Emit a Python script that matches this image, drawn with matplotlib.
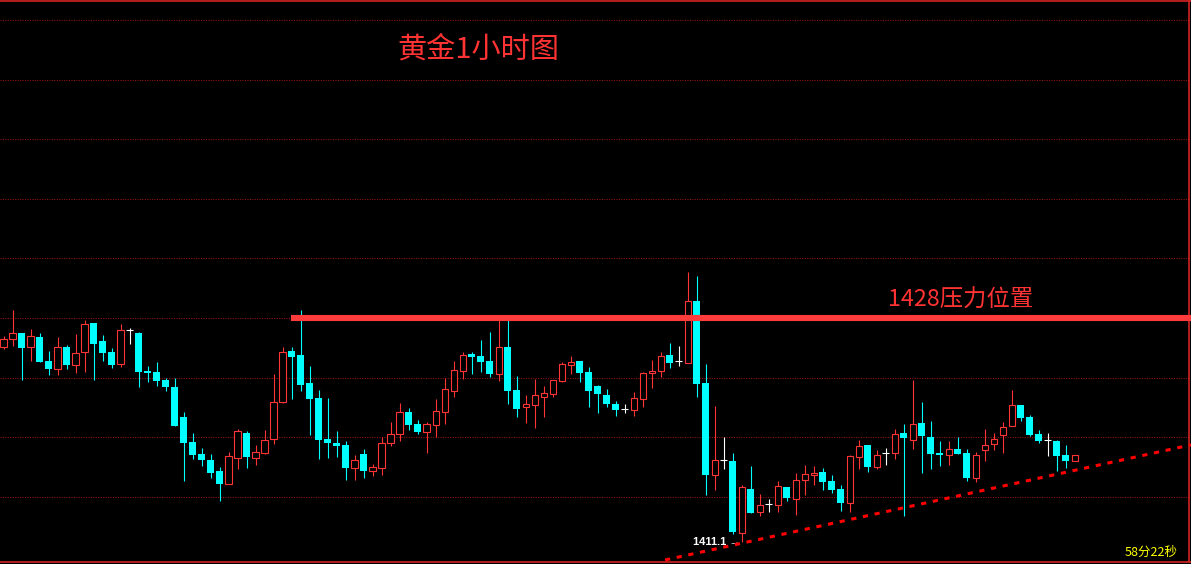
import numpy as np
import matplotlib
matplotlib.use('Agg')
import matplotlib.pyplot as plt

# hourly gold candles
opens = [1425.79, 1426.39, 1426.85, 1425.79, 1426.57, 1424.75, 1424.17, 1425.81, 1424.48, 1425.41,
         1427.62, 1426.26, 1425.43, 1424.51, 1427.07, 1426.87, 1424.00, 1423.92, 1423.32, 1422.79,
         1420.53, 1418.64, 1417.74, 1417.28, 1416.45, 1415.45, 1417.41, 1419.32, 1417.41, 1417.83,
         1418.85, 1421.68, 1425.51, 1425.21, 1423.09, 1421.96, 1418.87, 1418.57, 1418.42, 1416.70,
         1417.74, 1416.48, 1416.70, 1418.59, 1419.27, 1420.91, 1420.00, 1419.42, 1419.95, 1420.93,
         1422.51, 1423.98, 1425.28, 1425.13, 1424.75, 1423.75, 1425.81, 1422.57, 1421.31, 1421.46,
         1422.06, 1422.29, 1423.27, 1424.48, 1424.75, 1423.92, 1422.87, 1422.19, 1421.51, 1421.15,
         1421.08, 1421.91, 1423.87, 1424.02, 1425.21, 1424.75, 1424.63, 1429.28, 1423.09, 1416.13,
         1417.31, 1417.21, 1411.75, 1415.09, 1413.38, 1413.96, 1413.91, 1415.25, 1414.32, 1415.75,
         1416.17, 1416.38, 1415.70, 1415.09, 1414.06, 1417.53, 1418.42, 1416.78, 1417.81, 1417.83,
         1419.32, 1418.79, 1420.08, 1419.02, 1417.81, 1417.68, 1418.11, 1417.81, 1415.95, 1418.04,
         1418.51, 1419.17, 1419.85, 1421.43, 1420.53, 1419.25, 1418.77, 1418.72, 1417.66, 1417.23]
highs = [1426.64, 1428.60, 1426.87, 1427.17, 1426.87, 1425.51, 1426.57, 1425.96, 1426.79, 1427.85,
         1427.62, 1426.72, 1425.74, 1427.55, 1427.25, 1426.92, 1424.38, 1424.68, 1423.47, 1423.47,
         1420.91, 1419.30, 1418.19, 1417.74, 1416.75, 1417.89, 1419.62, 1419.47, 1418.42, 1419.55,
         1423.77, 1425.81, 1425.81, 1428.60, 1424.38, 1422.57, 1421.96, 1419.47, 1418.72, 1417.66,
         1418.11, 1416.98, 1419.02, 1420.15, 1421.58, 1421.21, 1420.30, 1420.15, 1421.89, 1423.47,
         1424.75, 1425.43, 1425.43, 1426.34, 1426.94, 1427.92, 1428.00, 1423.62, 1422.19, 1423.40,
         1422.87, 1423.32, 1424.68, 1425.13, 1424.75, 1424.30, 1422.94, 1422.64, 1421.74, 1421.51,
         1422.42, 1423.92, 1424.83, 1425.43, 1426.11, 1425.89, 1431.47, 1431.17, 1424.53, 1421.36,
         1419.02, 1417.81, 1415.40, 1416.83, 1414.72, 1414.34, 1415.70, 1415.25, 1416.30, 1416.91,
         1416.83, 1416.68, 1416.15, 1415.40, 1417.66, 1418.79, 1418.42, 1418.04, 1418.19, 1419.62,
         1420.00, 1423.32, 1421.66, 1420.23, 1418.72, 1418.72, 1419.02, 1418.11, 1417.89, 1419.62,
         1419.32, 1420.15, 1422.57, 1421.43, 1420.68, 1419.55, 1419.32, 1418.79, 1418.42, 1417.66]
lows = [1425.66, 1425.91, 1423.34, 1424.78, 1424.70, 1423.72, 1423.72, 1424.17, 1423.87, 1423.95,
        1423.34, 1424.78, 1424.25, 1424.32, 1426.04, 1422.82, 1423.19, 1422.87, 1422.49, 1419.85,
        1415.72, 1417.38, 1416.85, 1415.95, 1414.21, 1415.45, 1416.63, 1416.70, 1416.93, 1417.76,
        1418.51, 1421.61, 1421.91, 1422.51, 1419.19, 1417.38, 1417.43, 1417.53, 1415.80, 1415.80,
        1415.95, 1416.10, 1416.17, 1418.36, 1418.74, 1419.57, 1419.27, 1417.83, 1419.02, 1420.02,
        1422.06, 1423.42, 1423.80, 1423.95, 1423.57, 1423.27, 1421.53, 1420.55, 1420.10, 1419.72,
        1420.55, 1422.06, 1423.19, 1423.80, 1423.19, 1421.31, 1420.85, 1421.31, 1420.63, 1420.85,
        1420.63, 1421.31, 1422.74, 1423.57, 1424.25, 1424.38, 1424.63, 1422.06, 1414.66, 1415.04,
        1416.63, 1411.72, 1411.12, 1413.31, 1413.08, 1413.38, 1413.38, 1414.21, 1413.15, 1414.66,
        1415.40, 1415.04, 1414.82, 1413.46, 1413.38, 1416.63, 1416.38, 1416.60, 1416.91, 1417.36,
        1413.06, 1418.11, 1416.30, 1416.60, 1416.83, 1416.91, 1417.74, 1415.70, 1415.62, 1417.21,
        1418.04, 1417.81, 1419.85, 1420.23, 1419.09, 1418.57, 1417.58, 1416.45, 1416.68, 1417.23]
closes = [1426.39, 1426.85, 1425.76, 1426.62, 1424.70, 1424.17, 1425.79, 1424.48, 1425.34, 1427.52,
          1426.06, 1425.38, 1424.48, 1427.07, 1427.07, 1423.95, 1423.87, 1423.27, 1422.82, 1419.85,
          1418.59, 1417.68, 1417.31, 1416.32, 1415.49, 1417.56, 1419.45, 1417.53, 1417.86, 1418.77,
          1421.64, 1425.41, 1425.08, 1422.97, 1421.91, 1418.82, 1418.59, 1418.36, 1416.70, 1417.26,
          1416.48, 1416.73, 1418.57, 1419.22, 1420.88, 1419.92, 1419.42, 1419.98, 1420.96, 1422.62,
          1424.05, 1425.19, 1425.08, 1424.70, 1423.80, 1425.79, 1422.51, 1421.15, 1421.51, 1422.19,
          1422.32, 1423.32, 1424.53, 1424.68, 1423.85, 1422.51, 1422.29, 1421.53, 1421.08, 1421.15,
          1421.96, 1423.85, 1424.00, 1425.13, 1424.63, 1424.75, 1429.28, 1423.04, 1416.17, 1417.28,
          1417.31, 1411.87, 1415.25, 1413.31, 1413.86, 1413.96, 1415.30, 1414.44, 1415.75, 1416.20,
          1416.28, 1415.65, 1415.04, 1414.06, 1417.58, 1418.34, 1416.75, 1417.66, 1417.81, 1419.25,
          1418.94, 1420.00, 1419.09, 1417.74, 1417.66, 1418.11, 1417.74, 1415.92, 1417.66, 1418.42,
          1418.87, 1419.77, 1421.43, 1420.45, 1419.17, 1418.72, 1418.77, 1417.58, 1417.21, 1417.66]

resistance = 1428.0
resistance_from = 31.95
# support trend line through two points (candle index, price)
trend_x = [82, 119]
trend_y = [1411.0, 1416.5]
grid_levels = [1414.5, 1419.0, 1423.5, 1428.0, 1432.5, 1437.0, 1441.5, 1446.0, 1450.5]

title = '黄金1小时图'
res_label = '1428压力位置'
timer = '58分22秒'

UP = '#ff3535'
DOWN = '#00ffff'
CJK = ['Noto Sans CJK SC', 'DejaVu Sans']

o = np.array(opens); h = np.array(highs); l = np.array(lows); c = np.array(closes)
x = np.arange(len(o))

fig = plt.figure(figsize=(11.91, 5.64), dpi=100, facecolor='black')
ax = fig.add_axes([0, 0, 1, 1], facecolor='black')
ax.set_xlim(-0.389, 131.94)
ax.set_ylim(1409.434, 1452.0)

up = c > o
down = c < o
flat = c == o

# wicks
wick_col = np.where(up, UP, np.where(down, DOWN, 'white'))
ax.vlines(x, l, h, colors=wick_col, lw=0.8, zorder=2)

# bodies
ax.bar(x[down], (o - c)[down], bottom=c[down], width=0.78, color=DOWN, lw=0, zorder=3)
ax.bar(x[up], (c - o)[up], bottom=o[up], width=0.67, facecolor='black',
       edgecolor=UP, lw=0.8, zorder=3)
ax.hlines(o[flat], x[flat] - 0.39, x[flat] + 0.39, colors='white', lw=0.8, zorder=3)

# grid
ax.set_yticks(grid_levels)
ax.grid(axis='y', color='#8a1414', linestyle=(0, (1, 1.2)), lw=0.8)
ax.tick_params(left=False, bottom=False, labelleft=False, labelbottom=False)
for s in ax.spines.values():
    s.set_visible(False)

# borders
border = '#d42424'
ax.plot([0, 1], [0.9982, 0.9982], color=border, lw=1.2, transform=ax.transAxes)
ax.plot([0, 1], [0.0035, 0.0035], color=border, lw=1.2, transform=ax.transAxes)
ax.plot([0.9983, 0.9983], [0.0035, 0.9982], color=border, lw=1.2, transform=ax.transAxes)

# resistance line
ax.hlines(resistance, resistance_from, 131.94, colors='#ff3b3b', lw=4.4, zorder=4)
ax.text(98.3, resistance + 1.35, res_label, color='#ff3333', fontsize=16.8,
        family=CJK, va='center', ha='left')

# trend line
k = (trend_y[1] - trend_y[0]) / (trend_x[1] - trend_x[0])
tx = np.array([73.5, 131.94])
ax.plot(tx, trend_y[0] + k * (tx - trend_x[0]), color='#ff0000', lw=2.2,
        linestyle=(0, (1.7, 2.2)), zorder=4)

# lowest price label
i_low = int(np.argmin(l))
ax.text(i_low - 0.15, l[i_low] - 0.05, f'{l[i_low]:.1f} \u2192', color='white', fontsize=8,
        fontweight='bold', family=['Liberation Sans', 'DejaVu Sans'], ha='right', va='center')

ax.text(0.402, 0.912, title, color='#ff3333', fontsize=21, family=CJK,
        ha='center', va='center', transform=ax.transAxes)
ax.text(0.989, 0.021, timer, color='#ffff00', fontsize=9, family=CJK,
        ha='right', va='center', transform=ax.transAxes)

fig.savefig('out.png', dpi=100, facecolor='black')
